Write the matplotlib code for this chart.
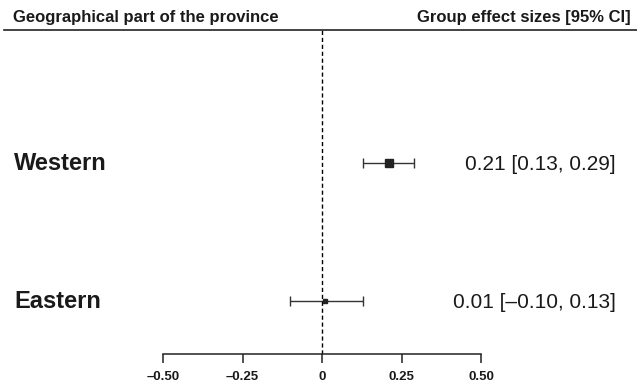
import matplotlib.pyplot as plt
from matplotlib.lines import Line2D

plt.rcParams['font.family'] = ['Liberation Sans', 'DejaVu Sans']

groups = ['Western', 'Eastern']
effect = [0.21, 0.01]
ci_low = [0.13, -0.10]
ci_high = [0.29, 0.13]
labels = ['0.21 [0.13, 0.29]', '0.01 [\u20130.10, 0.13]']
marker_size = [6, 2.8]
ticks = [-0.5, -0.25, 0, 0.25, 0.5]
tick_labels = ['\u20130.50', '\u20130.25', '0', '0.25', '0.50']

W, H = 637, 389
fig = plt.figure(figsize=(W / 100, H / 100), dpi=100)
ax = fig.add_axes([163 / W, (H - 354) / H, 318 / W, (354 - 30) / H])

ypos = [1, 0]
for y, e, lo, hi, ms in zip(ypos, effect, ci_low, ci_high, marker_size):
    ax.errorbar(e, y, xerr=[[e - lo], [hi - e]], fmt='s', color='#222222',
                ecolor='#333333', elinewidth=1, capsize=3.5, capthick=1,
                markersize=ms, clip_on=False)

ax.axvline(0, color='black', linestyle=(0, (3, 2)), linewidth=1)
ax.set_xlim(-0.5, 0.5)
ax.set_ylim(-0.384, 1.964)

for s in ['top', 'right', 'left']:
    ax.spines[s].set_visible(False)
ax.spines['bottom'].set_color('#222222')
ax.spines['bottom'].set_linewidth(1.1)
ax.set_yticks([])
ax.set_xticks(ticks)
ax.set_xticklabels(tick_labels, fontsize=9.5, fontweight='bold', color='#1a1a1a')
ax.tick_params(axis='x', direction='out', length=6.5, width=1.1, color='#222222', pad=6)

# group names and effect labels, baseline a little below the row centre
for y, g, lab in zip(ypos, groups, labels):
    yf = ax.transData.transform((0, y))[1] / H - 7 / H
    ax.text(14 / W, yf, g, transform=fig.transFigure, color='#1a1a1a',
            fontsize=17, fontweight='bold', ha='left', va='baseline')
    ax.text(616 / W, yf, lab, transform=fig.transFigure,
            fontsize=15, ha='right', va='baseline', color='#1a1a1a')

fig.text(13 / W, (H - 22) / H, 'Geographical part of the province', fontsize=12,
         fontweight='bold', ha='left', va='baseline', color='#1a1a1a')
fig.text(631 / W, (H - 22) / H, 'Group effect sizes [95% CI]', fontsize=12,
         fontweight='bold', ha='right', va='baseline', color='#1a1a1a')
fig.add_artist(Line2D([4 / W, 1], [(H - 30) / H, (H - 30) / H], color='#222222', linewidth=1.2))

fig.savefig('out.png', dpi=100)
